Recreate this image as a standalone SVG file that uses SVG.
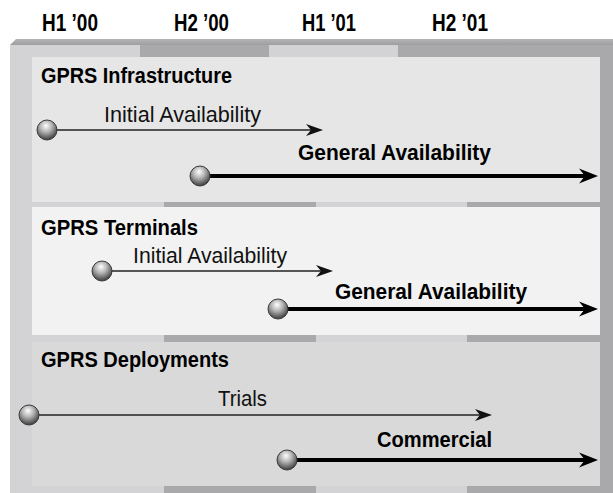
<svg xmlns="http://www.w3.org/2000/svg" width="613" height="493" viewBox="0 0 613 493">
<style>
.hdr{font-family:"Liberation Sans",Arial,sans-serif;font-weight:bold;font-size:23px;fill:#000}
.ttl{font-family:"Liberation Sans",Arial,sans-serif;font-weight:bold;font-size:22px;fill:#000}
.lbl{font-family:"Liberation Sans",Arial,sans-serif;font-size:22px;fill:#111}
.lblb{font-family:"Liberation Sans",Arial,sans-serif;font-weight:bold;font-size:22px;fill:#000}
.thin{stroke:#222;stroke-width:1.5;fill:none}
.thick{stroke:#000;stroke-width:4;fill:none}
.ball{fill:url(#sphere);stroke:#3a3a3a;stroke-width:1}
.colL{fill:#d3d3d5}
.colD{fill:#a9a9ab}
</style>
<defs>
<radialGradient id="sphere" cx="0.45" cy="0.35" r="0.65" fx="0.45" fy="0.28">
<stop offset="0" stop-color="#ffffff"/>
<stop offset="0.45" stop-color="#b4b4b4"/>
<stop offset="1" stop-color="#3c3c3c"/>
</radialGradient>
<linearGradient id="topbar" x1="0" y1="0" x2="0" y2="1">
<stop offset="0" stop-color="#b4b4b6"/>
<stop offset="1" stop-color="#9e9ea0"/>
</linearGradient>
<path id="ahThin" d="M0,0 L-17,-6 L-12,0 L-17,6 Z" fill="#111"/>
<path id="ahThick" d="M0,0 L-19,-7.5 L-13,0 L-19,7.5 Z" fill="#000"/>
</defs>

<rect width="613" height="493" fill="#ffffff"/>

<g id="header">
<text class="hdr" x="42" y="31" textLength="56" lengthAdjust="spacingAndGlyphs">H1 ’00</text>
<text class="hdr" x="174" y="31" textLength="55" lengthAdjust="spacingAndGlyphs">H2 ’00</text>
<text class="hdr" x="302" y="31" textLength="54" lengthAdjust="spacingAndGlyphs">H1 ’01</text>
<text class="hdr" x="432" y="31" textLength="56" lengthAdjust="spacingAndGlyphs">H2 ’01</text>
</g>

<g id="background">
<polygon points="10,45 16,39 613,39 613,45" fill="url(#topbar)"/>
<rect class="colL" x="10" y="45" width="130" height="12"/>
<rect class="colD" x="140" y="45" width="129" height="12"/>
<rect class="colL" x="269" y="45" width="129" height="12"/>
<rect class="colD" x="398" y="45" width="215" height="12"/>
<rect class="colL" x="10" y="57" width="154" height="436"/>
<rect class="colD" x="164" y="57" width="152" height="436"/>
<rect class="colL" x="316" y="57" width="151" height="436"/>
<rect class="colD" x="467" y="57" width="146" height="436"/>
</g>

<g id="panel-infrastructure">
<rect x="32" y="57" width="568" height="145" fill="#e6e6e6"/>
<text class="ttl" x="41" y="83" textLength="191" lengthAdjust="spacingAndGlyphs">GPRS Infrastructure</text>
</g>
<g id="panel-terminals">
<rect x="32" y="207" width="568" height="128" fill="#f2f2f2"/>
<text class="ttl" x="41" y="235" textLength="157" lengthAdjust="spacingAndGlyphs">GPRS Terminals</text>
</g>
<g id="panel-deployments">
<rect x="32" y="342" width="568" height="144" fill="#d9d9d9"/>
<text class="ttl" x="41" y="367" textLength="188" lengthAdjust="spacingAndGlyphs">GPRS Deployments</text>
</g>

<g id="connectors">
<line class="thin" x1="47" y1="130" x2="312" y2="130"/>
<use href="#ahThin" x="323" y="130"/>
<text class="lbl" x="104" y="122" textLength="157" lengthAdjust="spacingAndGlyphs">Initial Availability</text>

<line class="thick" x1="200" y1="176" x2="586" y2="176"/>
<use href="#ahThick" x="598" y="176"/>
<text class="lblb" x="298" y="160" textLength="193" lengthAdjust="spacingAndGlyphs">General Availability</text>

<line class="thin" x1="102" y1="271" x2="322" y2="271"/>
<use href="#ahThin" x="333" y="271"/>
<text class="lbl" x="133" y="263" textLength="154" lengthAdjust="spacingAndGlyphs">Initial Availability</text>

<line class="thick" x1="278" y1="309" x2="586" y2="309"/>
<use href="#ahThick" x="598" y="309"/>
<text class="lblb" x="335" y="299" textLength="192" lengthAdjust="spacingAndGlyphs">General Availability</text>

<line class="thin" x1="29" y1="415" x2="481" y2="415"/>
<use href="#ahThin" x="492" y="415"/>
<text class="lbl" x="218" y="406" textLength="49" lengthAdjust="spacingAndGlyphs">Trials</text>

<line class="thick" x1="287" y1="460" x2="586" y2="460"/>
<use href="#ahThick" x="598" y="460"/>
<text class="lblb" x="377" y="447" textLength="115" lengthAdjust="spacingAndGlyphs">Commercial</text>
</g>

<g id="milestone-infra-initial"><circle class="ball" cx="47" cy="130" r="10"/></g>
<g id="milestone-infra-general"><circle class="ball" cx="200" cy="176" r="10"/></g>
<g id="milestone-term-initial"><circle class="ball" cx="102" cy="271" r="10"/></g>
<g id="milestone-term-general"><circle class="ball" cx="278" cy="309" r="10"/></g>
<g id="milestone-deploy-trials"><circle class="ball" cx="29" cy="415" r="10"/></g>
<g id="milestone-deploy-commercial"><circle class="ball" cx="287" cy="460" r="10"/></g>
</svg>
